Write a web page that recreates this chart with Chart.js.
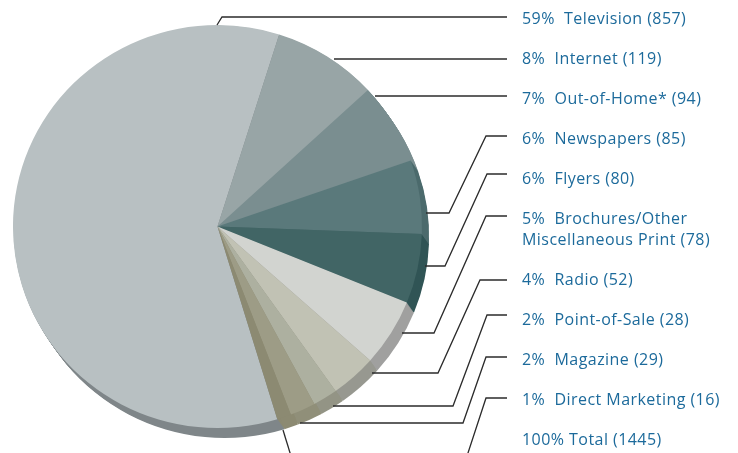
<!DOCTYPE html>
<html>
<head>
<meta charset="utf-8">
<title>Advertising by medium</title>
<style>
  html, body { margin: 0; background: #fff; }
  canvas { display: block; }
</style>
<script src="https://cdn.jsdelivr.net/npm/chart.js@4"></script>
</head>
<body>
<canvas id="chart" width="738" height="453"></canvas>
<script>
const categories = ["Television", "Internet", "Out-of-Home*", "Newspapers", "Flyers", "Brochures/Other\nMiscellaneous Print", "Radio", "Point-of-Sale", "Magazine", "Direct Marketing"];
const values = [857, 119, 94, 85, 80, 78, 52, 28, 29, 16];
const percents = [59, 8, 7, 6, 6, 5, 4, 2, 2, 1];
const totalLabel = "100% Total (1445)";

const faceColors = ["#b8c0c2", "#98a5a6", "#7a8e90", "#5a797b", "#416565", "#d2d4d0", "#c1c2b4", "#adb0a0", "#9d9c86", "#8c8a72"];
const sideColors = ["#7f8689", "#98a5a6", "#7a8e90", "#4b6a6c", "#305455", "#a0a09f", "#979890", "#939485", "#908f79", "#8c8a72"];

// pie depth, and the slight horizontal stretch of the disc
const depth = { x: 7, y: 10 };
const stretchX = 1.015;

// leader polylines, pie rim to label
const leaders = [
  [[217, 25], [222, 17], [507, 17]],
  [[334, 59], [507, 59]],
  [[375, 96], [507, 96]],
  [[426, 213], [449, 213], [486, 136], [507, 136]],
  [[425, 266], [445, 266], [487, 174], [507, 174]],
  [[402, 333], [434, 333], [486, 216], [507, 216]],
  [[372, 373], [438, 373], [480, 280], [507, 280]],
  [[333, 406], [453, 406], [487, 315], [507, 315]],
  [[300, 423], [463, 423], [486, 357], [507, 357]],
  [[283, 430], [291, 456]],
  [[467, 456], [486, 398], [507, 398]]
];

const labelX = 522;
const labelRows = [19, 59, 99, 139, 179, 219, 280, 320, 360, 400, 440];

const pieDepth = {
  id: "pieDepth",
  beforeDatasetsDraw(chart) {
    const { ctx } = chart;
    const arcs = chart.getDatasetMeta(0).data;
    const { x: cx, y: cy } = arcs[0];
    ctx.save();
    ctx.translate(cx, cy);
    ctx.scale(stretchX, 1);
    ctx.translate(-cx, -cy);
    arcs.forEach((arc, i) => {
      ctx.fillStyle = sideColors[i];
      for (let t = 1; t <= depth.y; t++) {
        const ox = arc.x + depth.x * t / depth.y;
        const oy = arc.y + t;
        ctx.beginPath();
        ctx.moveTo(ox, oy);
        ctx.arc(ox, oy, arc.outerRadius, arc.startAngle, arc.endAngle);
        ctx.closePath();
        ctx.fill();
      }
    });
  },
  afterDatasetsDraw(chart) {
    chart.ctx.restore();
  }
};

const callouts = {
  id: "callouts",
  afterDraw(chart) {
    const { ctx } = chart;
    ctx.save();
    ctx.strokeStyle = "#2b2b2b";
    ctx.lineWidth = 1.3;
    leaders.forEach((pts) => {
      ctx.beginPath();
      pts.forEach(([x, y], i) => (i ? ctx.lineTo(x, y) : ctx.moveTo(x, y)));
      ctx.stroke();
    });

    ctx.fillStyle = "#1c6a9b";
    ctx.font = '16px "Open Sans"';
    ctx.letterSpacing = "0.45px";
    ctx.textBaseline = "middle";
    let row = 0;
    categories.forEach((name, i) => {
      const lines = name.split("\n");
      lines.forEach((line, n) => {
        let text = line;
        if (n === 0) text = `${percents[i]}%  ${text}`;
        if (n === lines.length - 1) text += ` (${values[i]})`;
        ctx.fillText(text, labelX, labelRows[row] + n * 21);
      });
      row++;
    });
    ctx.fillText(totalLabel, labelX, labelRows[row]);
    ctx.restore();
  }
};

new Chart(document.getElementById("chart").getContext("2d"), {
  type: "pie",
  data: {
    labels: categories,
    datasets: [
      {
        data: values,
        backgroundColor: faceColors,
        borderWidth: 0
      }
    ]
  },
  options: {
    responsive: false,
    animation: false,
    rotation: -197,
    layout: { padding: { left: 15, right: 318, top: 25, bottom: 25 } },
    plugins: {
      legend: { display: false },
      tooltip: { enabled: false }
    }
  },
  plugins: [pieDepth, callouts]
});
</script>
</body>
</html>
